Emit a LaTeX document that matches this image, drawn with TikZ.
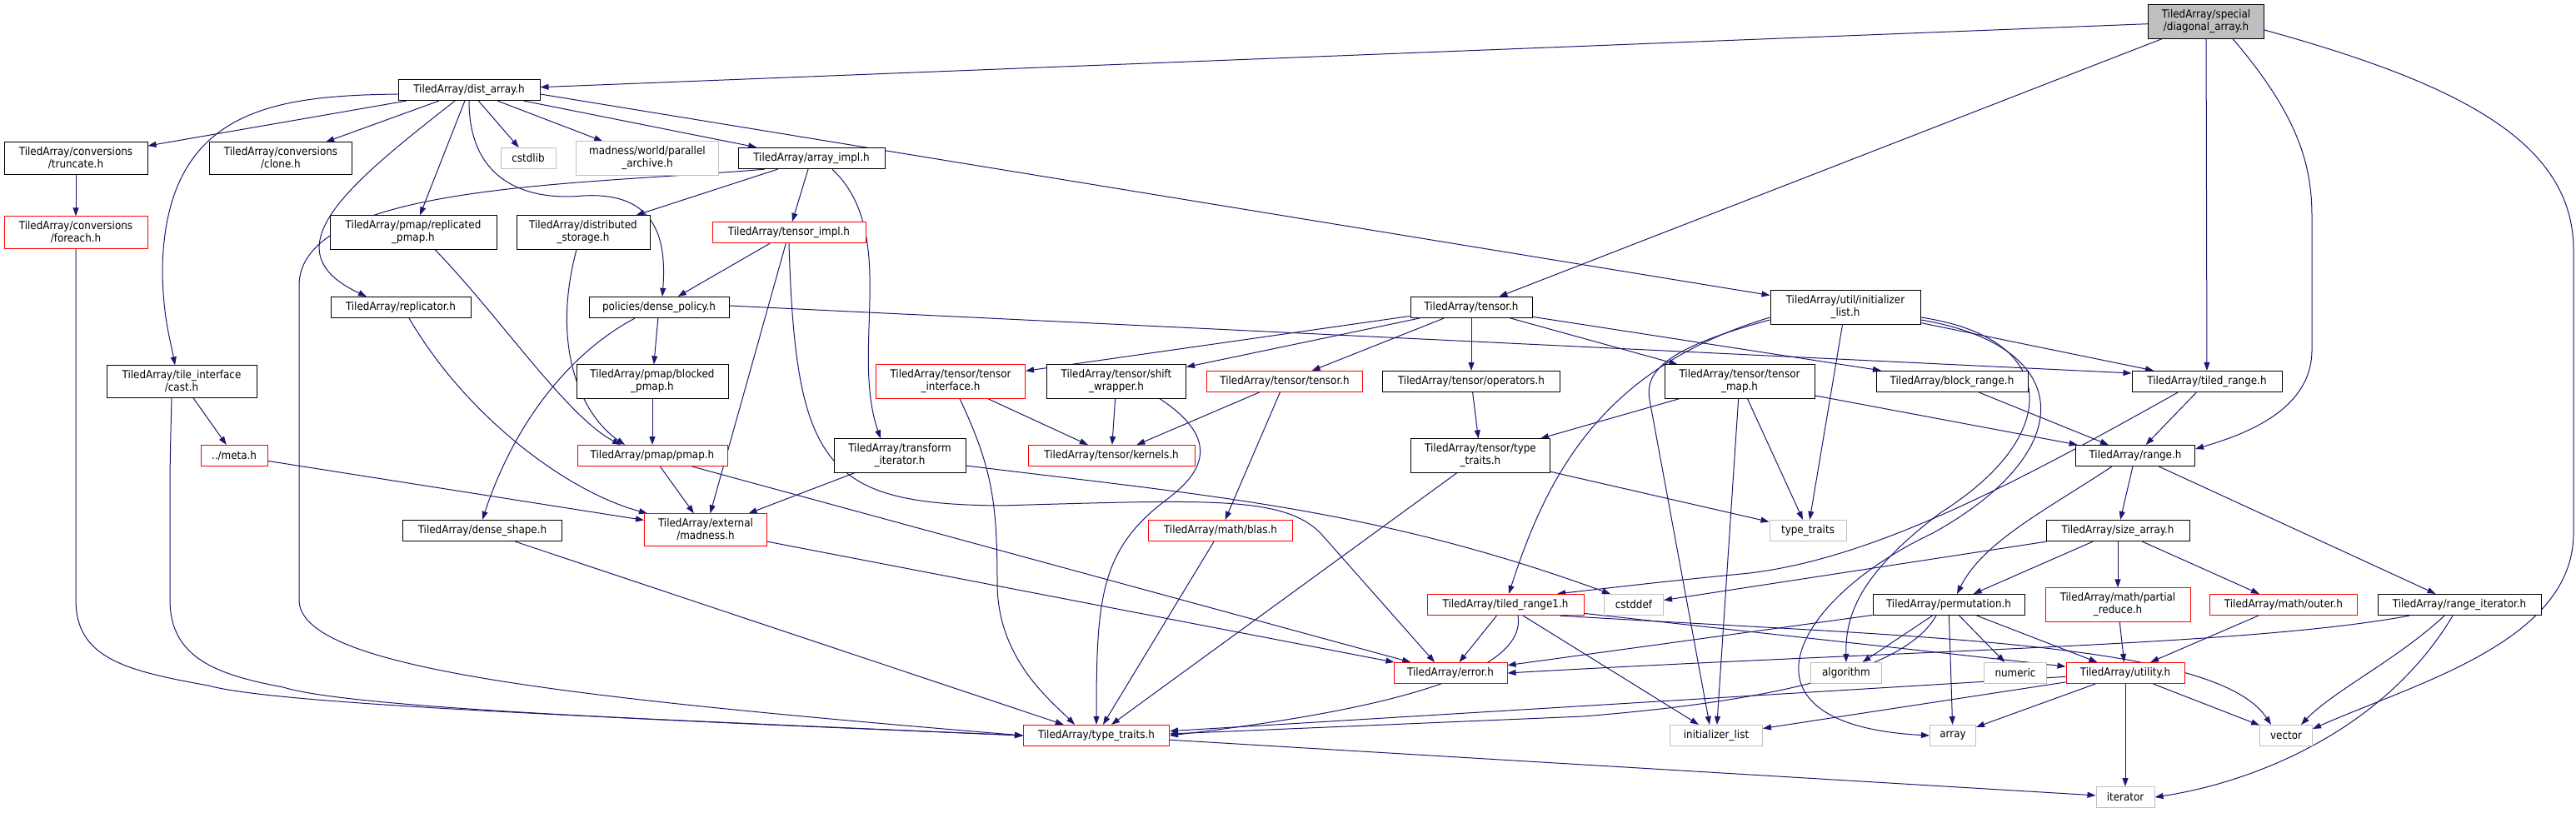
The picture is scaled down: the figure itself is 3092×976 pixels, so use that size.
\documentclass[tikz,border=0pt]{standalone}
\usepackage{fontspec}
\setmainfont{DejaVu Sans Condensed}
\usepackage{xcolor}
\usepackage{tikz}
\usetikzlibrary{shapes,arrows.meta,positioning,backgrounds}
\definecolor{edgeblue}{RGB}{25,25,112}
\definecolor{sysgray}{RGB}{191,191,191}

\begin{document}
\begin{tikzpicture}[x=1pt, y=-1pt, font=\fontsize{13.3}{15}\selectfont]
    % Stili
    \tikzstyle{inc}=[rectangle, draw=black, fill=white, line width=1pt, inner xsep=5pt, inner ysep=6pt, minimum height=25pt, align=center]
    \tikzstyle{incred}=[inc, draw=red]
    \tikzstyle{sysinc}=[inc, draw=sysgray]
    \tikzstyle{root}=[inc, fill=sysgray]
    \tikzstyle{arrow}=[-{Triangle[length=10pt,width=7pt]}, line width=1pt, draw=edgeblue]

    \useasboundingbox (0,0) rectangle (3092,976);

    % Nodi
    \node (diag) [root, minimum width=139pt] at (2648,26) {TiledArray/special\\/diagonal\_array.h};
    \node (dist) [inc, minimum width=170pt] at (563,108) {TiledArray/dist\_array.h};

    \node (truncate) [inc, minimum width=172pt] at (91,190) {TiledArray/conversions\\/truncate.h};
    \node (clone) [inc, minimum width=171pt] at (337,190) {TiledArray/conversions\\/clone.h};
    \node (cstdlib) [sysinc, minimum width=66pt] at (634,190) {cstdlib};
    \node (archive) [sysinc, minimum width=171pt] at (777,190) {madness/world/parallel\\\_archive.h};
    \node (arrimpl) [inc, minimum width=176pt] at (974,190) {TiledArray/array\_impl.h};

    \node (foreach) [incred, minimum width=172pt] at (91,279) {TiledArray/conversions\\/foreach.h};
    \node (reppmap) [inc, minimum width=200pt] at (496,279) {TiledArray/pmap/replicated\\\_pmap.h};
    \node (diststor) [inc, minimum width=160pt] at (700,279) {TiledArray/distributed\\\_storage.h};
    \node (tensorimpl) [incred, minimum width=184pt] at (947,279) {TiledArray/tensor\_impl.h};

    \node (replicator) [inc, minimum width=168pt] at (481,369) {TiledArray/replicator.h};
    \node (densepol) [inc, minimum width=168pt] at (791,369) {policies/dense\_policy.h};
    \node (tensorh) [inc, minimum width=146pt] at (1766,369) {TiledArray/tensor.h};
    \node (utilinit) [inc, minimum width=180pt] at (2215,369) {TiledArray/util/initializer\\\_list.h};

    \node (cast) [inc, minimum width=180pt] at (218,458) {TiledArray/tile\_interface\\/cast.h};
    \node (blocked) [inc, minimum width=182pt] at (783,458) {TiledArray/pmap/blocked\\\_pmap.h};
    \node (tinterface) [incred, minimum width=179pt] at (1141,458) {TiledArray/tensor/tensor\\\_interface.h};
    \node (shiftw) [inc, minimum width=167pt] at (1340,458) {TiledArray/tensor/shift\\\_wrapper.h};
    \node (tentensor) [incred, minimum width=187pt] at (1542,458) {TiledArray/tensor/tensor.h};
    \node (operators) [inc, minimum width=213pt] at (1766,458) {TiledArray/tensor/operators.h};
    \node (tensormap) [inc, minimum width=180pt] at (2088,458) {TiledArray/tensor/tensor\\\_map.h};
    \node (blockrange) [inc, minimum width=182pt] at (2343,458) {TiledArray/block\_range.h};
    \node (tiledrange) [inc, minimum width=180pt] at (2649,458) {TiledArray/tiled\_range.h};

    \node (meta) [incred, minimum width=80pt] at (281,547) {../meta.h};
    \node (pmap) [incred, minimum width=180pt] at (783,547) {TiledArray/pmap/pmap.h};
    \node (transit) [inc, minimum width=158pt] at (1080,547) {TiledArray/transform\\\_iterator.h};
    \node (kernels) [incred, minimum width=200pt] at (1334,547) {TiledArray/tensor/kernels.h};
    \node (tentraits) [inc, minimum width=167pt] at (1777,547) {TiledArray/tensor/type\\\_traits.h};
    \node (range) [inc, minimum width=143pt] at (2563,547) {TiledArray/range.h};

    \node (denseshape) [inc, minimum width=191pt] at (579,637) {TiledArray/dense\_shape.h};
    \node (madness) [incred, minimum width=147pt] at (847,636) {TiledArray/external\\/madness.h};
    \node (blas) [incred, minimum width=173pt] at (1465,637) {TiledArray/math/blas.h};
    \node (stdtraits) [sysinc, minimum width=92pt] at (2170,637) {type\_traits};
    \node (sizearray) [inc, minimum width=172pt] at (2542,637) {TiledArray/size\_array.h};

    \node (tr1) [incred, minimum width=188pt] at (1807,726) {TiledArray/tiled\_range1.h};
    \node (cstddef) [sysinc, minimum width=71pt] at (1961,726) {cstddef};
    \node (permut) [inc, minimum width=182pt] at (2339,726) {TiledArray/permutation.h};
    \node (partred) [incred, minimum width=174pt] at (2542,726) {TiledArray/math/partial\\\_reduce.h};
    \node (outer) [incred, minimum width=177pt] at (2741,726) {TiledArray/math/outer.h};
    \node (rangeit) [inc, minimum width=196pt] at (2952,726) {TiledArray/range\_iterator.h};

    \node (error) [incred, minimum width=136pt] at (1741,808) {TiledArray/error.h};
    \node (algorithm) [sysinc, minimum width=85pt] at (2216,808) {algorithm};
    \node (numeric) [sysinc, minimum width=75pt] at (2419,808) {numeric};
    \node (utility) [incred, minimum width=142pt] at (2551,808) {TiledArray/utility.h};

    \node (tatraits) [incred, minimum width=175pt] at (1316,883) {TiledArray/type\_traits.h};
    \node (initlist) [sysinc, minimum width=111pt] at (2060,883) {initializer\_list};
    \node (array) [sysinc, minimum width=55pt] at (2344,883) {array};
    \node (vector) [sysinc, minimum width=63pt] at (2744,883) {vector};
    \node (iterator) [sysinc, minimum width=70pt] at (2551,957) {iterator};

    % Collegamenti
    \begin{scope}[on background layer]
    \draw [arrow] (diag) -- (dist);
    \draw [arrow] (diag) -- (tensorh);
    \draw [arrow] (diag) -- (tiledrange);
    \draw [arrow] ([xshift=32pt]diag.south) .. controls (2760,140) and (2775,200) .. (2775,260) -- (2775,420) .. controls (2775,490) and (2700,520) .. ([yshift=8pt]range.east);
    \draw [arrow] ([yshift=-10pt]diag.east) .. controls (2950,100) and (3089,170) .. (3089,300) -- (3089,640) .. controls (3089,770) and (2900,820) .. ([yshift=8pt]vector.east);

    \draw [arrow] (dist) -- (truncate);
    \draw [arrow] (dist) -- (clone);
    \draw [arrow] (dist) -- (cstdlib);
    \draw [arrow] (dist) -- (archive);
    \draw [arrow] (dist) -- (arrimpl);
    \draw [arrow] (dist) -- (reppmap);
    \draw [arrow] ([yshift=-5pt]dist.east) -- (utilinit);
    \draw [arrow] ([yshift=-5pt]dist.west) .. controls (330,115) and (200,130) .. (195,320) .. controls (195,380) and (205,410) .. ([xshift=-8pt]cast.north);
    \draw [arrow] ([xshift=-17pt]dist.south) .. controls (420,220) and (320,300) .. ([xshift=-41pt]replicator.north);
    \draw [arrow] (dist.south) .. controls (563,230) and (650,240) .. (700,235) .. controls (790,230) and (800,290) .. ([xshift=4pt]densepol.north);

    \draw [arrow] (truncate) -- (foreach);
    \draw [arrow] (foreach.south) -- (91,720) .. controls (91,790) and (150,805) .. (250,823) .. controls (330,845) and (700,860) .. (tatraits.west);

    \draw [arrow] (arrimpl) -- (tensorimpl);
    \draw [arrow] (arrimpl) -- (diststor);
    \draw [arrow] ([xshift=25pt]arrimpl.south) .. controls (1080,280) and (1020,420) .. ([xshift=-23pt]transit.north);
    \draw [arrow] ([xshift=-56pt]arrimpl.south) .. controls (700,222) and (365,220) .. (359,340) -- (359,720) .. controls (359,800) and (650,835) .. (tatraits.west);

    \draw [arrow] (tensorimpl) -- (densepol);
    \draw [arrow] (tensorimpl) -- (madness);
    \draw [arrow] (tensorimpl.south) .. controls (955,560) and (990,605) .. (1200,607) .. controls (1450,600) and (1540,595) .. (1585,640) -- ([xshift=-19pt]error.north);

    \draw [arrow] ([xshift=26pt]reppmap.south) .. controls (600,380) and (680,500) .. ([xshift=-38pt]pmap.north);
    \draw [arrow] ([xshift=-8pt]diststor.south) .. controls (660,420) and (700,500) .. ([xshift=-33pt]pmap.north);
    \draw [arrow] ([xshift=10pt]replicator.south) .. controls (560,500) and (680,590) .. ([xshift=-70pt]madness.north);

    \draw [arrow] (densepol) -- (blocked);
    \draw [arrow] ([yshift=2pt]densepol.east) -- ([yshift=10pt]tiledrange.west);
    \draw [arrow] ([xshift=-29pt]densepol.south) .. controls (690,420) and (620,500) .. (denseshape.north);
    \draw [arrow] (blocked) -- (pmap);

    \draw [arrow] (cast) -- (meta);
    \draw [arrow] ([xshift=-12pt]cast.south) .. controls (204,560) .. (204,620) -- (204,720) .. controls (204,790) and (260,810) .. (340,825) .. controls (420,850) and (800,865) .. (tatraits.west);
    \draw [arrow] (meta) -- (madness);

    \draw [arrow] (pmap) -- (madness);
    \draw [arrow] (pmap) -- (error);
    \draw [arrow] (madness) -- (error);
    \draw [arrow] (transit) -- (madness);
    \draw [arrow] ([yshift=-12pt]transit.east) .. controls (1450,595) and (1650,610) .. ([xshift=-28pt]cstddef.north);
    \draw [arrow] (denseshape) -- (tatraits);

    \draw [arrow] (tensorh) -- (tinterface);
    \draw [arrow] (tensorh) -- (shiftw);
    \draw [arrow] (tensorh) -- (tentensor);
    \draw [arrow] (tensorh) -- (operators);
    \draw [arrow] (tensorh) -- (tensormap);
    \draw [arrow] (tensorh) -- (blockrange);

    \draw [arrow] (tinterface) -- (kernels);
    \draw [arrow] ([xshift=11pt]tinterface.south) .. controls (1190,560) and (1197,600) .. (1197,700) .. controls (1197,790) and (1260,840) .. ([xshift=-26pt]tatraits.north);
    \draw [arrow] (shiftw) -- (kernels);
    \draw [arrow] ([xshift=52pt]shiftw.south) .. controls (1470,530) and (1440,570) .. (1400,600) .. controls (1320,660) and (1316,720) .. (tatraits.north);
    \draw [arrow] (tentensor) -- (kernels);
    \draw [arrow] (tentensor) -- (blas);
    \draw [arrow] (blas) -- (tatraits);

    \draw [arrow] (operators) -- (tentraits);
    \draw [arrow] (tentraits) -- (tatraits);
    \draw [arrow] (tentraits) -- (stdtraits);
    \draw [arrow] (tensormap) -- (tentraits);
    \draw [arrow] (tensormap) -- (stdtraits);
    \draw [arrow] (tensormap) -- (initlist);
    \draw [arrow] (tensormap) -- (range);
    \draw [arrow] (blockrange) -- (range);

    \draw [arrow] (utilinit) -- (tiledrange);
    \draw [arrow] (utilinit) -- (stdtraits);
    \draw [arrow] ([yshift=-12pt]utilinit.west) .. controls (1930,440) and (1860,560) .. ([xshift=4pt]tr1.north);
    \draw [arrow] ([yshift=-15pt]utilinit.west) .. controls (1990,420) and (1975,450) .. (1980,480) -- ([xshift=-8pt]initlist.north);
    \draw [arrow] ([yshift=-12pt]utilinit.east) .. controls (2470,405) and (2480,520) .. (2330,615) .. controls (2230,690) and (2215,740) .. (algorithm.north);
    \draw [arrow] ([yshift=-15pt]utilinit.east) .. controls (2490,415) and (2500,540) .. (2320,640) .. controls (2150,720) and (2070,870) .. (array.west);

    \draw [arrow] (tiledrange) -- (range);
    \draw [arrow] ([xshift=-35pt]tiledrange.south) .. controls (2420,580) and (2250,670) .. (2100,688) .. controls (2000,698) .. ([xshift=62pt]tr1.north);

    \draw [arrow] (range) -- (sizearray);
    \draw [arrow] (range) -- (rangeit);
    \draw [arrow] ([xshift=-28pt]range.south) .. controls (2460,610) and (2380,650) .. ([xshift=10pt]permut.north);

    \draw [arrow] (sizearray) -- (cstddef);
    \draw [arrow] (sizearray) -- (permut);
    \draw [arrow] (sizearray) -- (partred);
    \draw [arrow] (sizearray) -- (outer);

    \draw [arrow] (tr1) -- (error);
    \draw [arrow] (tr1) -- (initlist);
    \draw [arrow] (tr1) -- (utility);
    \draw [arrow] ([xshift=65pt]tr1.south) .. controls (2300,765) and (2660,770) .. ([xshift=-18pt]vector.north);
    \draw [arrow] ([xshift=15pt]tr1.south) .. controls (1835,820) and (1600,860) .. (tatraits.east);

    \draw [arrow] (permut) -- (error);
    \draw [arrow] (permut) -- (algorithm);
    \draw [arrow] (permut) -- (numeric);
    \draw [arrow] (permut) -- (array);
    \draw [arrow] (permut) -- (utility);
    \draw [arrow] ([xshift=-15pt]permut.south) .. controls (2290,800) and (2150,840) .. (1900,860) -- ([yshift=2pt]tatraits.east);

    \draw [arrow] (partred) -- (utility);
    \draw [arrow] (outer) -- (utility);

    \draw [arrow] ([xshift=-60pt]rangeit.south) .. controls (2700,775) and (2300,780) .. (error.east);
    \draw [arrow] ([xshift=-18pt]rangeit.south) .. controls (2880,790) and (2800,830) .. ([xshift=18pt]vector.north);
    \draw [arrow] ([xshift=-8pt]rangeit.south) .. controls (2860,880) and (2700,940) .. (iterator.east);

    \draw [arrow] (utility) -- (iterator);
    \draw [arrow] (utility) -- (vector);
    \draw [arrow] (utility) -- (array);
    \draw [arrow] (utility) -- (initlist);
    \draw [arrow] (utility) -- (tatraits);

    \draw [arrow] (tatraits) -- (iterator);
    \end{scope}

\end{tikzpicture}
\end{document}
